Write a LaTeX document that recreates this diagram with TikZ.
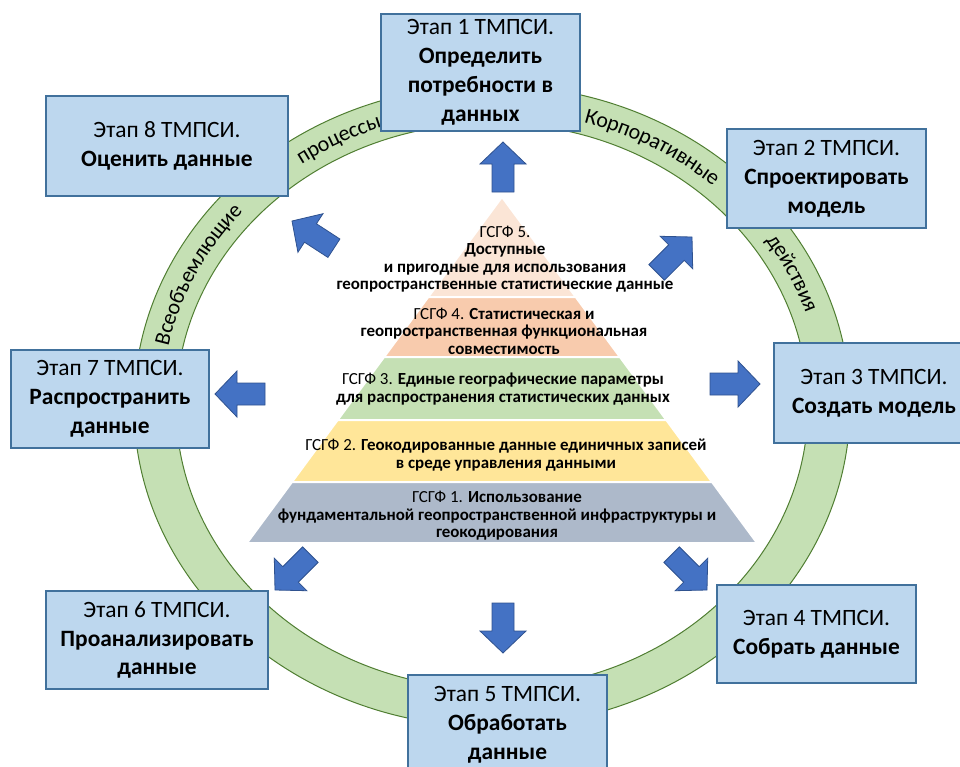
\documentclass[tikz,border=0pt]{standalone}
\usepackage{fontspec}
\setmainfont{Carlito}
\usetikzlibrary{decorations.text}
\definecolor{boxfill}{HTML}{BDD7EE}
\definecolor{boxline}{HTML}{41719C}
\definecolor{arrfill}{HTML}{4472C4}
\definecolor{arrline}{HTML}{2F528F}
\definecolor{ringfill}{HTML}{C5E0B4}
\definecolor{ringline}{HTML}{507E32}
\definecolor{lvfive}{HTML}{FBE5D6}
\definecolor{lvfour}{HTML}{F8CBAD}
\definecolor{lvthree}{HTML}{C5E0B4}
\definecolor{lvtwo}{HTML}{FFE699}
\definecolor{lvone}{HTML}{ADB9CA}
\newcommand{\boxfont}{\fontsize{23.5}{29}\selectfont}
\newcommand{\pyrfont}{\fontsize{17}{17.6}\selectfont}
\newcommand{\ringfont}{\fontsize{22}{26}\selectfont}
\newcommand{\blockarrow}[4]{%
  \begin{scope}[shift={(#2,#3)}, rotate=#4]
    \draw[blockarr] (0,0) coordinate (#1) -- (-22,23) -- (-22,11) -- (-50,11) -- (-50,-11) -- (-22,-11) -- (-22,-23) -- cycle;
  \end{scope}}
\begin{document}
\begin{tikzpicture}[x=1bp,y=1bp,
  stagebox/.style={draw=boxline, fill=boxfill, line width=1.5bp, align=center, font=\boxfont, inner sep=0pt},
  blockarr/.style={draw=arrline, fill=arrfill, line width=0.8bp, line join=miter},
  levelshape/.style={draw=white, line width=2bp},
  leveltext/.style={align=center, font=\pyrfont, inner sep=0pt},
  ringtext/.style={decorate, decoration={text along path, text align=center, raise=-6.5bp}}
]
\useasboundingbox (0,0) rectangle (960,-767);

% ring
\fill[ringfill, even odd rule] (492,-406) ellipse[x radius=358, y radius=321] (492,-406) ellipse[x radius=316, y radius=283];
\draw[ringline, line width=1bp] (492,-406) ellipse[x radius=358, y radius=321];
\draw[ringline, line width=1bp] (492,-406) ellipse[x radius=316, y radius=283];

% ring text
\path[ringtext, decoration={text={|\ringfont|Всеобъемлющие}}] ({492+337*cos(183)},{-406+302*sin(183)}) arc[start angle=183, end angle=125, x radius=337, y radius=302];
\path[ringtext, decoration={text={|\ringfont|процессы}}] ({492+337*cos(137.5)},{-406+302*sin(137.5)}) arc[start angle=137.5, end angle=97.5, x radius=337, y radius=302];
\path[ringtext, decoration={text={|\ringfont|Корпоративные}}] ({492+337*cos(90)},{-406+302*sin(90)}) arc[start angle=90, end angle=31, x radius=337, y radius=302];
\path[ringtext, decoration={text={|\ringfont|действия}}] ({492+337*cos(46)},{-406+302*sin(46)}) arc[start angle=46, end angle=6, x radius=337, y radius=302];

% pyramid
\filldraw[levelshape, fill=lvfive] (502,-197) -- (575.7,-297) -- (428.3,-297) -- cycle;
\filldraw[levelshape, fill=lvfour] (428.3,-297) -- (575.7,-297) -- (619.9,-357) -- (384.1,-357) -- cycle;
\filldraw[levelshape, fill=lvthree] (384.1,-357) -- (619.9,-357) -- (666.3,-420) -- (337.7,-420) -- cycle;
\filldraw[levelshape, fill=lvtwo] (337.7,-420) -- (666.3,-420) -- (712,-482) -- (292,-482) -- cycle;
\filldraw[levelshape, fill=lvone] (292,-482) -- (712,-482) -- (757,-543) -- (247,-543) -- cycle;

\node[leveltext] (g5) at (505,-259) {ГСГФ 5.\\\textbf{Доступные}\\\textbf{и пригодные для использования}\\\textbf{геопространственные статистические данные}};
\node[leveltext] (g4) at (504,-331) {ГСГФ 4. \textbf{Статистическая и}\\\textbf{геопространственная функциональная}\\\textbf{совместимость}};
\node[leveltext] (g3) at (503,-389) {ГСГФ 3. \textbf{Единые географические параметры}\\\textbf{для распространения статистических данных}};
\node[leveltext] (g2) at (506,-455) {ГСГФ 2. \textbf{Геокодированные данные единичных записей}\\\textbf{в среде управления данными}};
\node[leveltext] (g1) at (497,-516) {ГСГФ 1. \textbf{Использование}\\\textbf{фундаментальной геопространственной инфраструктуры и}\\\textbf{геокодирования}};

% arrows
\blockarrow{a1}{503}{-142}{90}
\blockarrow{a2}{692}{-237}{45}
\blockarrow{a3}{760}{-384}{0}
\blockarrow{a4}{707}{-590}{-45}
\blockarrow{a5}{503}{-653}{-90}
\blockarrow{a6}{275}{-590}{-135}
\blockarrow{a7}{215}{-394}{180}
\blockarrow{a8}{292}{-221}{147}

% stage boxes
\node[stagebox, minimum width=199bp, minimum height=117bp] (s1) at (480.5,-72.5) {Этап 1 ТМПСИ.\\\textbf{Определить}\\\textbf{потребности в}\\\textbf{данных}};
\node[stagebox, minimum width=199bp, minimum height=99bp] (s2) at (826.5,-178.5) {Этап 2 ТМПСИ.\\\textbf{Спроектировать}\\\textbf{модель}};
\node[stagebox, minimum width=200bp, minimum height=100bp] (s3) at (874,-393) {Этап 3 ТМПСИ.\\\textbf{Создать модель}};
\node[stagebox, minimum width=199bp, minimum height=98bp] (s4) at (816.5,-634) {Этап 4 ТМПСИ.\\\textbf{Собрать данные}};
\node[stagebox, minimum width=199bp, minimum height=99bp] (s5) at (507.5,-724.5) {Этап 5 ТМПСИ.\\\textbf{Обработать}\\\textbf{данные}};
\node[stagebox, minimum width=222bp, minimum height=98bp] (s6) at (157,-640) {Этап 6 ТМПСИ.\\\textbf{Проанализировать}\\\textbf{данные}};
\node[stagebox, minimum width=198bp, minimum height=98bp] (s7) at (110,-399) {Этап 7 ТМПСИ.\\\textbf{Распространить}\\\textbf{данные}};
\node[stagebox, minimum width=242bp, minimum height=100bp] (s8) at (167,-146) {Этап 8 ТМПСИ.\\\textbf{Оценить данные}};
\end{tikzpicture}
\end{document}
